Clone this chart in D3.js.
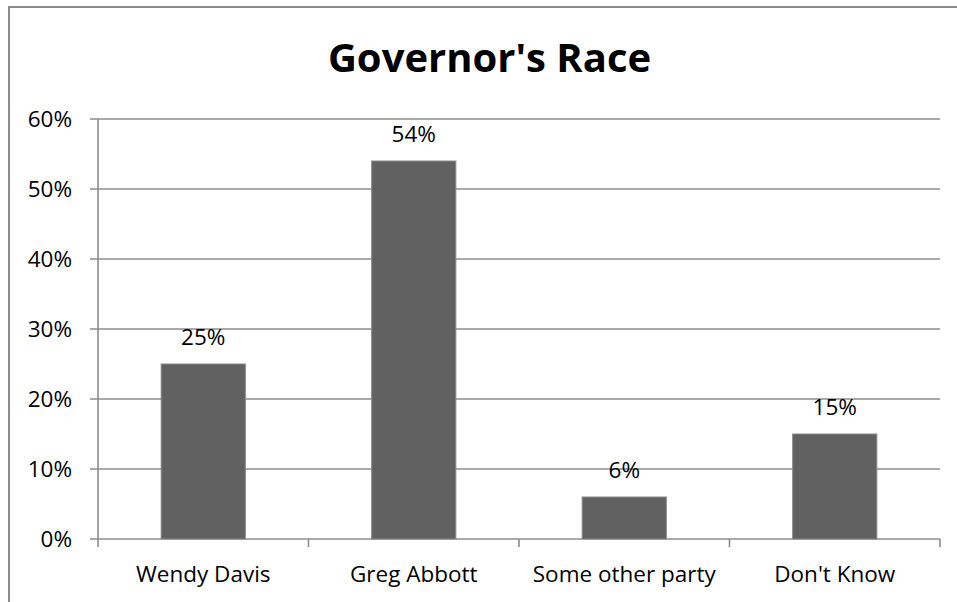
<!DOCTYPE html>
<html>
<head>
<meta charset="utf-8">
<script src="https://cdn.jsdelivr.net/npm/d3@7"></script>
<style>
  html, body { margin: 0; padding: 0; background: #fff; }
  svg { display: block; }
  text { font-family: "Open Sans", "Liberation Sans", sans-serif; fill: #000; }
</style>
</head>
<body>
<svg id="chart" width="957" height="602"></svg>
<script>
const title = "Governor's Race";
const categories = ["Wendy Davis", "Greg Abbott", "Some other party", "Don't Know"];
const values = [0.25, 0.54, 0.06, 0.15];
const valueLabels = ["25%", "54%", "6%", "15%"];
const yTicks = [0, 0.1, 0.2, 0.3, 0.4, 0.5, 0.6];

const svg = d3.select("#chart");
const plotLeft = 98, plotRight = 940, plotTop = 119, plotBottom = 539;
const grid = "#8c8c8c";

// chart area border (top and left edges visible)
svg.append("line").attr("x1", 9).attr("x2", 957).attr("y1", 7).attr("y2", 7)
  .attr("stroke", grid).attr("stroke-width", 2);
svg.append("line").attr("x1", 9).attr("x2", 9).attr("y1", 6).attr("y2", 602)
  .attr("stroke", grid).attr("stroke-width", 2);

const x = d3.scaleBand().domain(categories).range([plotLeft, plotRight])
  .paddingInner(0.6).paddingOuter(0.3);
const y = d3.scaleLinear().domain([0, 0.6]).range([plotBottom, plotTop]);

// gridlines
svg.append("g").selectAll("line").data(yTicks).join("line")
  .attr("x1", plotLeft - 8).attr("x2", plotRight)
  .attr("y1", d => y(d)).attr("y2", d => y(d))
  .attr("stroke", grid).attr("stroke-width", 1.6);

// y axis line
svg.append("line").attr("x1", plotLeft).attr("x2", plotLeft).attr("y1", y(0.6)).attr("y2", y(0))
  .attr("stroke", grid).attr("stroke-width", 1.6);

// y tick labels
svg.append("g").selectAll("text").data(yTicks).join("text")
  .attr("x", 72).attr("y", d => y(d) + 8)
  .attr("text-anchor", "end").style("font-size", "22.5px")
  .text(d => d3.format(".0%")(d));

// x ticks at band boundaries
const bounds = d3.range(categories.length + 1).map(i => plotLeft + i * (plotRight - plotLeft) / categories.length);
svg.append("g").selectAll("line").data(bounds).join("line")
  .attr("x1", d => d).attr("x2", d => d).attr("y1", y(0)).attr("y2", y(0) + 8)
  .attr("stroke", grid).attr("stroke-width", 1.6);

// bars
svg.append("g").selectAll("rect").data(values).join("rect")
  .attr("x", (d, i) => x(categories[i]))
  .attr("width", x.bandwidth())
  .attr("y", d => y(d))
  .attr("height", d => y(0) - y(d))
  .attr("fill", "#616161").attr("stroke", "#8a8a8a").attr("stroke-width", 1);

// value labels
svg.append("g").selectAll("text").data(values).join("text")
  .attr("x", (d, i) => x(categories[i]) + x.bandwidth() / 2)
  .attr("y", d => y(d) - 19)
  .attr("text-anchor", "middle").style("font-size", "22.5px")
  .text((d, i) => valueLabels[i]);

// category labels
svg.append("g").selectAll("text").data(categories).join("text")
  .attr("x", d => x(d) + x.bandwidth() / 2)
  .attr("y", 582)
  .attr("text-anchor", "middle").style("font-size", "22.5px")
  .text(d => d);

// title
svg.append("text").attr("x", 489.5).attr("y", 72)
  .attr("text-anchor", "middle").style("font-size", "40px").style("font-weight", "bold")
  .text(title);
</script>
</body>
</html>
